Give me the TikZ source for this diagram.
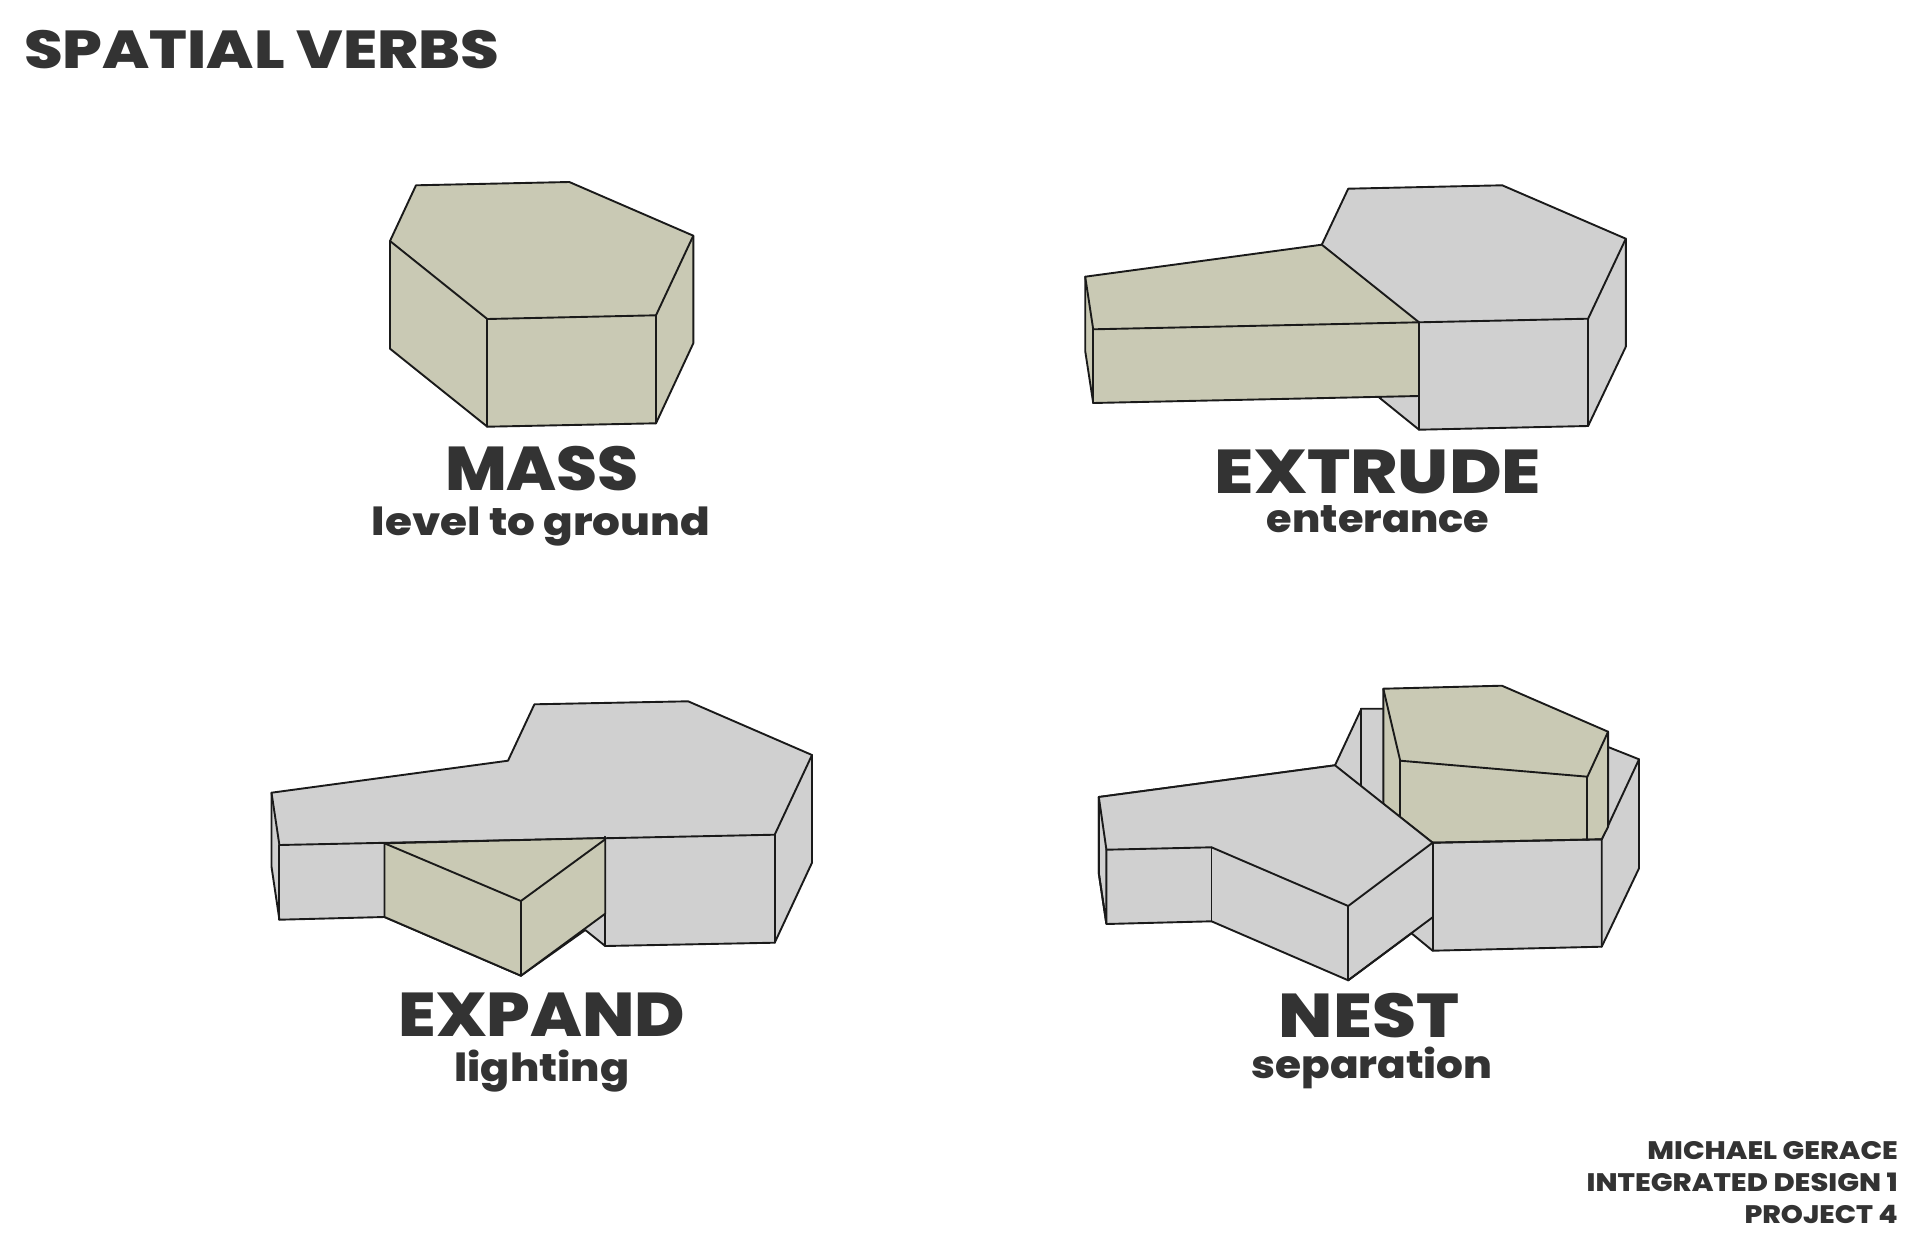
\documentclass[tikz,border=0pt]{standalone}
\usepackage{fontspec}
\setmainfont{Poppins}[BoldFont={Poppins ExtraBold}]
\usepackage{xcolor}
\definecolor{massolive}{RGB}{201, 201, 180}
\definecolor{basegray}{RGB}{208, 208, 208}
\definecolor{edgeblack}{RGB}{26, 26, 26}
\definecolor{textslate}{RGB}{51, 51, 51}
\usetikzlibrary{positioning}
\tikzset{
    olivepart/.style={fill=massolive, draw=edgeblack, line width=2.7pt, line join=round},
    graypart/.style={fill=basegray, draw=edgeblack, line width=2.7pt, line join=round},
    edgeline/.style={draw=edgeblack, line width=2.7pt, line cap=round},
    verbtitle/.style={anchor=base, inner sep=0pt, text=textslate, transform shape, font=\fontsize{88}{88}\selectfont\bfseries},
    verbsub/.style={anchor=base, inner sep=0pt, text=textslate, transform shape, font=\fontsize{55}{55}\selectfont\bfseries},
    sheetnote/.style={anchor=base east, inner sep=0pt, text=textslate, transform shape, font=\fontsize{36}{36}\selectfont\bfseries}
}

\begin{document}
\begin{tikzpicture}[x=0.05cm, y=-0.05cm]
    \useasboundingbox (0,0) rectangle (1920,1242);

    \node[anchor=base west, inner sep=0pt, text=textslate, transform shape, xscale=1.17, font=\fontsize{76}{76}\selectfont\bfseries] (sheettitle) at (24,68) {SPATIAL VERBS};

    % mass
    \draw[olivepart] (416,185.3) -- (569.3,182) -- (693.3,235.7) -- (693.3,343.3) -- (656,423.3) -- (487.3,426.7) -- (390,348.7) -- (390,241) -- cycle;
    \draw[edgeline] (390,241) -- (487.3,319) -- (656,315.3) -- (693.3,235.7);
    \draw[edgeline] (487.3,319) -- (487.3,426.7);
    \draw[edgeline] (656,315.3) -- (656,423.3);
    \node[verbtitle, xscale=1.07] (mass) at (542,490) {MASS};
    \node[verbsub, xscale=1.13] (masssub) at (541,535) {level to ground};

    % extrude
    \draw[graypart] (1348.2,188.7) -- (1502.2,185.3) -- (1625.8,238.7) -- (1625.8,346.7) -- (1588.1,426) -- (1419,429.7) -- (1379.4,397.7) -- (1321.8,244.7) -- cycle;
    \draw[edgeline] (1419,322.3) -- (1588.1,318.7) -- (1625.8,238.7);
    \draw[edgeline] (1419,322.3) -- (1419,429.7);
    \draw[edgeline] (1588.1,318.7) -- (1588.1,426);
    \draw[olivepart] (1085.2,276.7) -- (1321.8,244.7) -- (1419,322.3) -- (1419,396) -- (1093.2,403) -- (1085.2,351) -- cycle;
    \draw[edgeline] (1085.2,276.7) -- (1093.2,329.3) -- (1419,322.3);
    \draw[edgeline] (1093.2,329.3) -- (1093.2,403);
    \node[verbtitle, xscale=1.16] (extrude) at (1378,493) {EXTRUDE};
    \node[verbsub, xscale=1.07] (extrudesub) at (1378,532) {enterance};

    % expand
    \draw[graypart] (534.4,704.3) -- (688.1,701.3) -- (812,755) -- (812,862.7) -- (774.7,942.7) -- (605.2,946) -- (585.3,930) -- (520.9,975.7) -- (384.5,917) -- (279.4,919.7) -- (271.5,866.7) -- (271.5,792.7) -- (508,760.7) -- cycle;
    \draw[edgeline] (271.5,792.7) -- (279.4,845) -- (774.7,834.7) -- (812,755);
    \draw[edgeline] (279.4,845) -- (279.4,919.7);
    \draw[edgeline] (605.2,836.7) -- (605.2,946);
    \draw[edgeline] (774.7,834.7) -- (774.7,942.7);
    \draw[olivepart] (384.5,843.3) -- (605.2,838) -- (605.2,913.7) -- (520.9,975.7) -- (384.5,917) -- cycle;
    \draw[edgeline] (384.5,843.3) -- (520.9,901) -- (605.2,839.3);
    \draw[edgeline] (520.9,901) -- (520.9,975.7);
    \node[verbtitle, xscale=1.11] (expand) at (542,1036) {EXPAND};
    \node[verbsub, xscale=1.11] (expandsub) at (542,1081) {lighting};

    % nest
    \draw[graypart] (1361.4,708.7) -- (1383.3,708.7) -- (1608.9,747.3) -- (1639,759.3) -- (1639,868.3) -- (1601.7,946.7) -- (1432.6,950.7) -- (1411.5,933.3) -- (1348.2,980.3) -- (1211.5,921.3) -- (1106.4,924) -- (1098.8,873.3) -- (1098.8,797) -- (1335,765.3) -- cycle;
    \draw[edgeline] (1361.4,708.7) -- (1361.4,786);
    \draw[edgeline] (1601.7,839.3) -- (1639,759.3);
    \draw[olivepart] (1383.3,688.7) -- (1501.9,685.7) -- (1608.1,731.7) -- (1608.1,826.7) -- (1601.7,839.3) -- (1432.6,842.7) -- (1383.3,804) -- cycle;
    \draw[edgeline] (1383.3,688.7) -- (1400.2,760.7) -- (1587.4,776.7) -- (1608.1,731.7);
    \draw[edgeline] (1400.2,760.7) -- (1400.2,816);
    \draw[edgeline] (1587.4,776.7) -- (1587.4,840);
    \draw[graypart] (1098.8,797) -- (1335,765.3) -- (1432.6,842.7) -- (1348.2,906) -- (1211.5,847.3) -- (1106.4,849.7) -- cycle;
    \draw[edgeline] (1432.6,842.7) -- (1601.7,839.3) -- (1601.7,946.7);
    \draw[edgeline] (1432.6,842.7) -- (1432.6,950.7);
    \draw[edgeline] (1098.8,797) -- (1098.8,873.3) -- (1106.4,924) -- (1106.4,849.7);
    \draw[edgeline] (1211.5,847.3) -- (1211.5,921.3);
    \draw[edgeline] (1348.2,906) -- (1348.2,980.3);
    \draw[edgeline] (1432.6,917.3) -- (1348.2,980.3);
    \node[verbtitle, xscale=1.15] (nest) at (1369,1037) {NEST};
    \node[verbsub, xscale=1.09] (nestsub) at (1372,1078) {separation};

    \node[sheetnote, xscale=1.13] (notename) at (1898,1159) {MICHAEL GERACE};
    \node[sheetnote, xscale=1.14] (notecourse) at (1898,1191) {INTEGRATED DESIGN 1};
    \node[sheetnote, xscale=1.11] (noteproject) at (1898,1223) {PROJECT 4};
\end{tikzpicture}
\end{document}
